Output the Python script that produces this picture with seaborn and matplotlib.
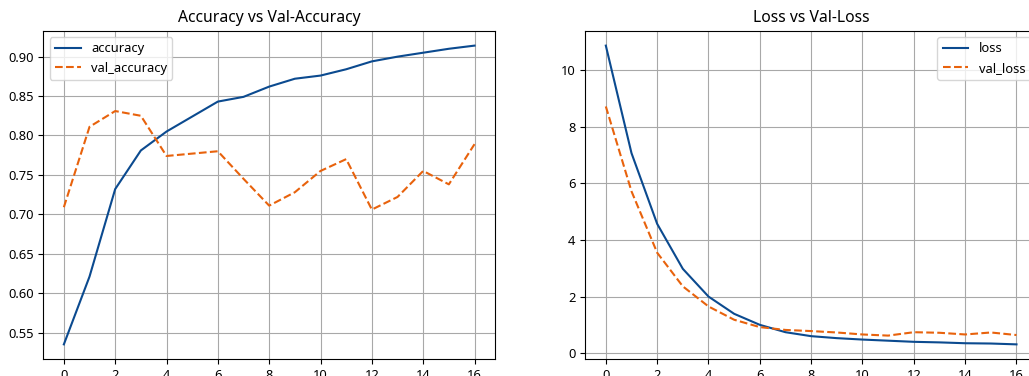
import numpy as np
import pandas as pd
import matplotlib
matplotlib.use('Agg')
import matplotlib.pyplot as plt
import seaborn as sns

plt.rcParams['font.family'] = ['Noto Sans', 'DejaVu Sans']
plt.rcParams['font.size'] = 9.3
plt.rcParams['grid.color'] = '#a8a8a8'

# training history values
epochs = list(range(17))
accuracy = [0.535, 0.621, 0.732, 0.781, 0.805, 0.824, 0.843, 0.849, 0.862, 0.872,
            0.876, 0.884, 0.894, 0.900, 0.905, 0.910, 0.914]
val_accuracy = [0.709, 0.811, 0.831, 0.825, 0.774, 0.777, 0.780, 0.745, 0.711, 0.728,
                0.755, 0.770, 0.706, 0.722, 0.755, 0.738, 0.789]
loss = [10.87, 7.07, 4.57, 2.98, 2.00, 1.39, 1.00, 0.74, 0.60, 0.53,
        0.48, 0.44, 0.40, 0.38, 0.35, 0.34, 0.31]
val_loss = [8.72, 5.72, 3.55, 2.36, 1.65, 1.18, 0.92, 0.82, 0.78, 0.73,
            0.66, 0.62, 0.74, 0.72, 0.66, 0.73, 0.64]

BLUE = '#0b4a8f'
ORANGE = '#e8620c'

fig = plt.figure(figsize=(10.29, 3.76), dpi=100)
ax1 = fig.add_axes([0.0421, 0.0444, 0.4390, 0.8740])
ax2 = fig.add_axes([0.5688, 0.0444, 0.4390, 0.8740])

# Accuracy panel
sns.lineplot(x=epochs, y=accuracy, color=BLUE, label='accuracy', ax=ax1)
sns.lineplot(x=epochs, y=val_accuracy, color=ORANGE, linestyle='--', label='val_accuracy', ax=ax1)
ax1.set_title('Accuracy vs Val-Accuracy', fontsize=11.3)
ax1.grid(True)
ax1.legend(loc='upper left')

# Loss panel
sns.lineplot(x=epochs, y=loss, color=BLUE, label='loss', ax=ax2)
sns.lineplot(x=epochs, y=val_loss, color=ORANGE, linestyle='--', label='val_loss', ax=ax2)
ax2.set_title('Loss vs Val-Loss', fontsize=11.3)
ax2.grid(True)
ax2.legend(loc='upper right')

for ax in (ax1, ax2):
    ax.set_xticks(range(0, 17, 2))

fig.savefig('out.png', dpi=100)
